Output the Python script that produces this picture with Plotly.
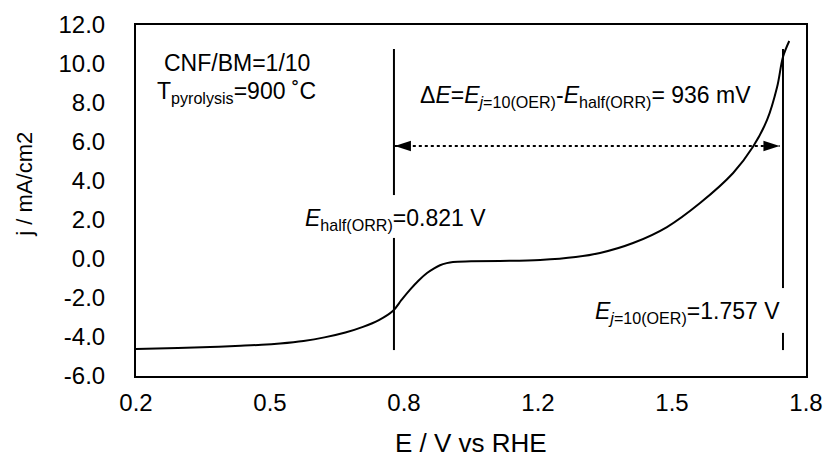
import plotly.graph_objects as go

# ---- data ----
E_volts = [0.20, 0.30, 0.377, 0.45, 0.50, 0.544, 0.60, 0.65, 0.70, 0.742, 0.78, 0.814,
           0.834, 0.854, 0.875, 0.895, 0.912, 0.926, 0.942, 0.957, 1.00, 1.069, 1.165,
           1.25, 1.308, 1.387, 1.468, 1.547, 1.626, 1.673, 1.707, 1.731, 1.745, 1.760]
j_current = [-4.62, -4.56, -4.51, -4.45, -4.40, -4.33, -4.20, -4.02, -3.77, -3.48, -3.13, -2.65,
             -2.10, -1.58, -1.10, -0.72, -0.48, -0.32, -0.21, -0.15, -0.12, -0.10, -0.05,
             0.10, 0.31, 0.82, 1.64, 2.87, 4.41, 5.74, 7.13, 8.82, 10.36, 11.18]

x_tickvals = [0.2, 0.52, 0.84, 1.16, 1.48, 1.8]
x_ticktext = ["0.2", "0.5", "0.8", "1.2", "1.5", "1.8"]
y_tickvals = [-6, -4, -2, 0, 2, 4, 6, 8, 10, 12]
y_ticktext = ["-6.0", "-4.0", "-2.0", "0.0", "2.0", "4.0", "6.0", "8.0", "10.0", "12.0"]

E_half_line = 0.816      # drawn position of the E_half(ORR) marker line
E_oer_line = 1.745       # drawn position of the E_j=10(OER) marker line
orr_line_y = [10.77, 3.28, None, 1.08, -4.67]
oer_line_y = [10.77, -1.49, None, -3.79, -4.67]
arrow_y = 5.79
arrow_x = [0.818, 1.737]

FONT = "Liberation Sans, Arial, Helvetica, sans-serif"

fig = go.Figure()

fig.add_trace(go.Scatter(
    x=E_volts, y=j_current, mode="lines",
    line=dict(color="black", width=2, shape="spline", smoothing=1.0),
    hoverinfo="skip", showlegend=False))

fig.add_trace(go.Scatter(
    x=[E_half_line] * 5, y=orr_line_y, mode="lines",
    line=dict(color="black", width=2), connectgaps=False,
    hoverinfo="skip", showlegend=False))

fig.add_trace(go.Scatter(
    x=[E_oer_line] * 5, y=oer_line_y, mode="lines",
    line=dict(color="black", width=2), connectgaps=False,
    hoverinfo="skip", showlegend=False))

fig.add_trace(go.Scatter(
    x=arrow_x, y=[arrow_y, arrow_y], mode="lines",
    line=dict(color="black", width=2, dash="dot"),
    hoverinfo="skip", showlegend=False))

fig.add_trace(go.Scatter(
    x=arrow_x, y=[arrow_y, arrow_y], mode="markers",
    marker=dict(symbol="arrow", size=17, color="black", angle=[-90, 90],
                line=dict(width=0)),
    hoverinfo="skip", showlegend=False))

annotations = [
    dict(x=0.44, y=10.05, text="CNF/BM=1/10", font=dict(size=23)),
    dict(x=0.44, y=8.55, text="T<sub>pyrolysis</sub>=900 ˚C", font=dict(size=23)),
    dict(x=1.273, y=8.35,
         text="Δ<i>E</i>=<i>E</i><sub><i>j</i>=10(OER)</sub>-<i>E</i><sub>half(ORR)</sub>= 936 mV",
         font=dict(size=23)),
    dict(x=0.819, y=2.05, text="<i>E</i><sub>half(ORR)</sub>=0.821 V", font=dict(size=23)),
    dict(x=1.517, y=-2.75, text="<i>E</i><sub><i>j</i>=10(OER)</sub>=1.757 V", font=dict(size=23)),
]
for a in annotations:
    a.update(xref="x", yref="y", showarrow=False, xanchor="center", yanchor="middle")

annotations.append(dict(xref="paper", yref="paper", x=0.5, y=0, yshift=-67,
                        text="E / V vs RHE", showarrow=False,
                        xanchor="center", yanchor="middle", font=dict(size=26)))
annotations.append(dict(xref="paper", yref="paper", x=0, y=0.545, xshift=-111,
                        text="j / mA/cm2", showarrow=False, textangle=-90,
                        xanchor="center", yanchor="middle", font=dict(size=22)))

fig.update_layout(
    width=824, height=452,
    margin=dict(l=136, r=18, t=25, b=76, autoexpand=False),
    paper_bgcolor="white", plot_bgcolor="white",
    font=dict(family=FONT, color="black"),
    annotations=annotations,
    xaxis=dict(range=[0.2, 1.8], tickvals=x_tickvals, ticktext=x_ticktext,
               showline=True, mirror=True, linewidth=2, linecolor="black",
               showgrid=False, zeroline=False, ticks="",
               ticklabelstandoff=4, tickfont=dict(size=24), ticklabeloverflow="allow"),
    yaxis=dict(range=[-6, 12], tickvals=y_tickvals, ticktext=y_ticktext,
               showline=True, mirror=True, linewidth=2, linecolor="black",
               showgrid=False, zeroline=False, ticks="",
               ticklabelstandoff=24, tickfont=dict(size=24)),
)

# remove the default page margin so the 824x452 figure fills the window exactly
fig.write_html("out.html", config={"displayModeBar": False},
               post_script="document.body.style.margin='0';document.body.style.overflow='hidden';")
